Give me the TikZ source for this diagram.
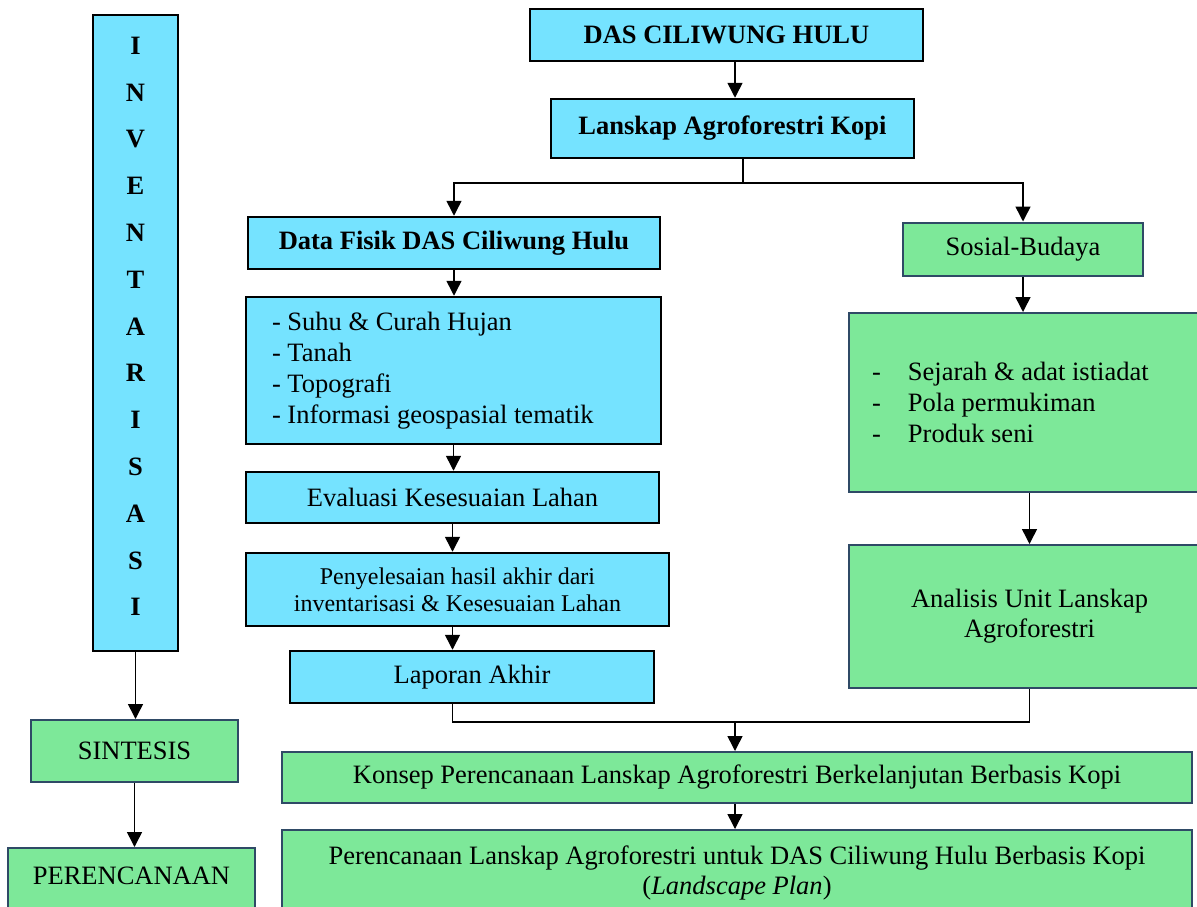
\documentclass[tikz,border=0pt]{standalone}
\usepackage{fontspec}
\setmainfont{Liberation Serif}
\usetikzlibrary{arrows.meta}
\definecolor{boxcyan}{HTML}{75E3FF}
\definecolor{boxgreen}{HTML}{7DE899}
\definecolor{greenline}{HTML}{2F4A66}
\begin{document}
\begin{tikzpicture}[x=1pt,y=-1pt,
        cyanbox/.style={draw=black,line width=2.5pt,fill=boxcyan,inner sep=0pt,font=\fontsize{26.5}{31}\selectfont},
        greenbox/.style={draw=greenline,line width=2pt,fill=boxgreen,inner sep=0pt,font=\fontsize{26.5}{30}\selectfont},
        boldtext/.style={font=\fontsize{26.5}{31}\selectfont\bfseries},
        arr/.style={-{Triangle[width=15pt,length=15pt]},line width=1.5pt},
        wire/.style={line width=1.5pt}]
        \useasboundingbox (0,0) rectangle (1197,906);
        \begin{scope}[every node/.style={cyanbox}]
            \node[boldtext,minimum width=393,minimum height=52] (das) at (726.5,35) {DAS CILIWUNG HULU};
            \node[boldtext,minimum width=363,minimum height=59] (lanskap) at (732.5,128.5) {Lanskap Agroforestri Kopi};
            \node[boldtext,minimum width=412,minimum height=52] (fisik) at (454,243) {Data Fisik DAS Ciliwung Hulu};
            \node[minimum width=415,minimum height=147,text width=363,inner xsep=26,align=flush left] (fisikdata) at (453.5,370.5)
                {- Suhu \& Curah Hujan\\- Tanah\\- Topografi\\- Informasi geospasial tematik};
            \node[minimum width=413,minimum height=51] (eval) at (452.5,497.5) {Evaluasi Kesesuaian Lahan};
            \node[minimum width=423,minimum height=73,align=center,font=\fontsize{24}{27}\selectfont] (selesai) at (457.5,589.5)
                {Penyelesaian hasil akhir dari\\inventarisasi \& Kesesuaian Lahan};
            \node[minimum width=364,minimum height=52] (laporan) at (472,677) {Laporan Akhir};
            \node[font=\fontsize{26.5}{46.8}\selectfont\bfseries,minimum width=85,minimum height=636,align=center,text depth=13pt] (inv) at (135.5,333)
                {I\\N\\V\\E\\N\\T\\A\\R\\I\\S\\A\\S\\I};
        \end{scope}
        \begin{scope}[every node/.style={greenbox}]
            \node[minimum width=240,minimum height=53] (sosial) at (1023,249) {Sosial-Budaya};
            \node[minimum width=361,minimum height=179,text width=315,inner xsep=23,align=flush left,font=\fontsize{26.5}{31}\selectfont] (sejarah) at (1029.5,402.5)
                {\makebox[36pt][l]{-}Sejarah \& adat istiadat\\\makebox[36pt][l]{-}Pola permukiman\\\makebox[36pt][l]{-}Produk seni};
            \node[minimum width=361,minimum height=143,align=center] (analisis) at (1029.5,616.5) {Analisis Unit Lanskap\\Agroforestri};
            \node[minimum width=910,minimum height=51] (konsep) at (737,777.5) {Konsep Perencanaan Lanskap Agroforestri Berkelanjutan Berbasis Kopi};
            \node[minimum width=910,minimum height=85,align=center] (rencana) at (737,872.5)
                {Perencanaan Lanskap Agroforestri untuk DAS Ciliwung Hulu Berbasis Kopi\\(\textit{Landscape Plan})};
            \node[minimum width=207,minimum height=62] (sintesis) at (134.5,751) {SINTESIS};
            \node[minimum width=247,minimum height=67,text depth=11pt] (perencanaan) at (131.5,881.5) {PERENCANAAN};
        \end{scope}
        % junctions
        \coordinate (split) at (743,183);
        \coordinate (join) at (735,722);
        \path [arr] (das.south -| join) edge (lanskap.north -| join);
        \draw [wire] (lanskap.south -| split) -- (split);
        \draw [arr] (split) -| (fisik.north);
        \draw [arr] (split) -| (sosial.north);
        \path [arr] (fisik.south) edge (fisik.south |- fisikdata.north);
        \path [arr] (fisikdata.south) edge (fisikdata.south |- eval.north);
        \path [arr] (eval.south) edge (eval.south |- selesai.north);
        \path [arr] (eval.south |- selesai.south) edge (eval.south |- laporan.north);
        \path [arr] (sosial.south) edge (sosial.south |- sejarah.north);
        \path [arr] (sejarah.south) edge (analisis.north);
        \draw [wire] (laporan.south -| eval.south) |- (join) -| (analisis.south);
        \path [arr] (join) edge (join |- konsep.north);
        \path [arr] (konsep.south -| join) edge (rencana.north -| join);
        \path [arr] (inv.south) edge (inv.south |- sintesis.north);
        \path [arr] (sintesis.south) edge (sintesis.south |- perencanaan.north);
\end{tikzpicture}
\end{document}
